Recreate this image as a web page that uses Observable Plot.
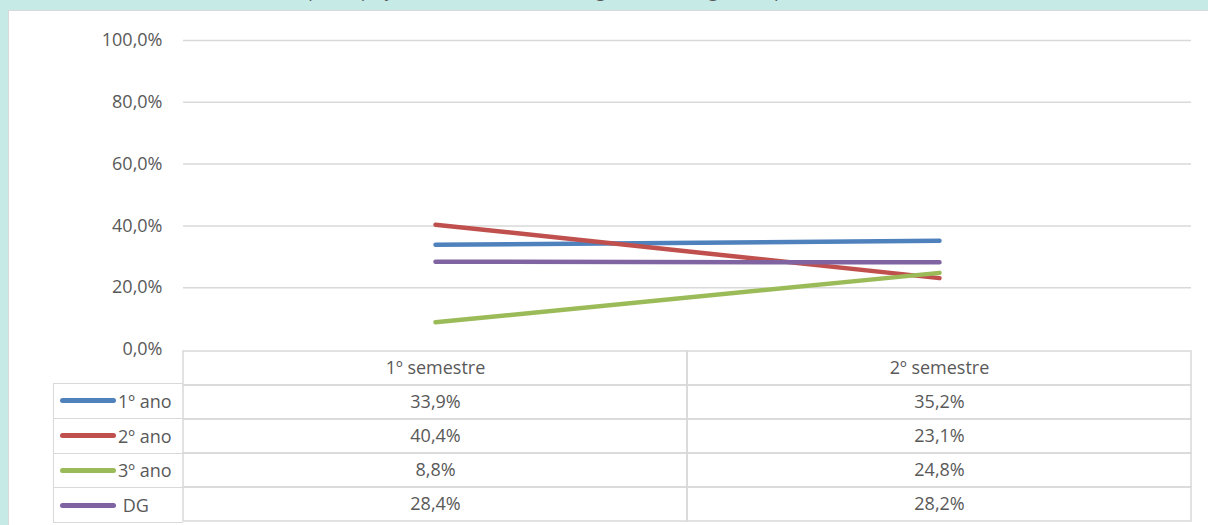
<!DOCTYPE html>
<html><head><meta charset="utf-8">
<script src="https://cdn.jsdelivr.net/npm/d3@7"></script>
<script src="https://cdn.jsdelivr.net/npm/@observablehq/plot@0.6"></script>
<style>
html,body{margin:0;padding:0;}
body{background:#c6eae5;width:1208px;height:525px;overflow:hidden;position:relative;font-family:"Open Sans",sans-serif;}
#title{position:absolute;left:0;width:1208px;top:-22px;text-align:center;font-size:18px;color:#595959;white-space:nowrap;}
#panel{position:absolute;left:8px;top:10px;width:1200px;height:515px;background:#fff;border-top:1.5px solid #d9d9d9;border-left:1.5px solid #d9d9d9;box-sizing:border-box;}
#chart,#table{position:absolute;left:0;}
#chart{top:0;}
#table{top:349px;}
svg{overflow:visible;}
.leg{position:absolute;left:53px;width:130px;height:35px;box-sizing:border-box;border-left:1.5px solid #d9d9d9;border-bottom:1.5px solid #d9d9d9;font-size:18px;color:#595959;display:flex;align-items:center;}
.leg.first{border-top:1.5px solid #d9d9d9;}
.leg .sw{display:inline-block;width:56px;height:5px;border-radius:3px;margin-left:6px;margin-right:2px;}
</style></head>
<body>
<div id="title">Gráfico 4 – Taxa média de participação dos estudantes de Engenharia Geográfica, por ano curricular e semestre, 2015/2016</div>
<div id="panel"></div>
<div id="chart"></div>
<div id="table"></div>
<div id="legend"></div>
<script>
const semesters = ["1º semestre", "2º semestre"];
const series = ["1º ano", "2º ano", "3º ano", "DG"];
const colors = ["#4f81bd", "#c0504d", "#9bbb59", "#8064a2"];
const sem1 = [0.339, 0.404, 0.088, 0.284];
const sem2 = [0.352, 0.231, 0.248, 0.282];
const yTicks = [0, 0.2, 0.4, 0.6, 0.8, 1.0];

const fmt = v => d3.format(".1%")(v).replace(".", ",");
const rows = series.flatMap((s, i) => [
  {series: s, semester: semesters[0], value: sem1[i]},
  {series: s, semester: semesters[1], value: sem2[i]}
]);
const font = '"Open Sans", sans-serif';

const chart = Plot.plot({
  width: 1208, height: 350,
  marginTop: 40, marginBottom: 1, marginLeft: 183, marginRight: 17,
  x: {type: "band", domain: semesters, padding: 0, axis: null},
  y: {domain: [0, 1]},
  color: {domain: series, range: colors},
  style: {fontFamily: font, fontSize: "18px", color: "#595959", background: "transparent", overflow: "visible"},
  marks: [
    Plot.ruleY(yTicks.filter(t => t > 0), {stroke: "#d9d9d9", strokeWidth: 1.5}),
    Plot.axisY({ticks: yTicks, tickFormat: fmt, tickSize: 0, tickPadding: 21, fontSize: 18, label: null, fill: "#595959"}),
    Plot.line(rows, {x: "semester", y: "value", stroke: "series", z: "series", strokeWidth: 4.5, strokeLinecap: "round"})
  ]
});
document.getElementById("chart").appendChild(chart);

const cells = [
  ...semesters.map(s => ({semester: s, row: "header", label: s})),
  ...rows.map(r => ({semester: r.semester, row: r.series, label: fmt(r.value)}))
];
const table = Plot.plot({
  width: 1208, height: 175,
  marginTop: 0, marginBottom: 1, marginLeft: 183, marginRight: 17,
  x: {type: "band", domain: semesters, padding: 0, axis: null},
  y: {type: "band", domain: ["header", ...series], padding: 0, axis: null},
  style: {fontFamily: font, fontSize: "18px", color: "#595959", background: "transparent", overflow: "visible"},
  marks: [
    Plot.cell(cells, {x: "semester", y: "row", stroke: "#d9d9d9", fill: "none", strokeWidth: 1.5}),
    Plot.text(cells, {x: "semester", y: "row", text: "label", fontSize: 18, fill: "#595959"})
  ]
});
document.getElementById("table").appendChild(table);

const legend = document.getElementById("legend");
series.forEach((s, i) => {
  const d = document.createElement("div");
  d.className = "leg" + (i === 0 ? " first" : "");
  d.style.top = (349 + 34.8 * (i + 1) - (i === 0 ? 1 : 0)) + "px";
  if (i === 0) d.style.height = "36px";
  const sw = document.createElement("span");
  sw.className = "sw";
  sw.style.background = colors[i];
  d.appendChild(sw);
  const t = document.createElement("span");
  t.textContent = (s === "DG" ? "\u00a0" : "") + s;
  d.appendChild(t);
  legend.appendChild(d);
});
</script>
</body></html>
